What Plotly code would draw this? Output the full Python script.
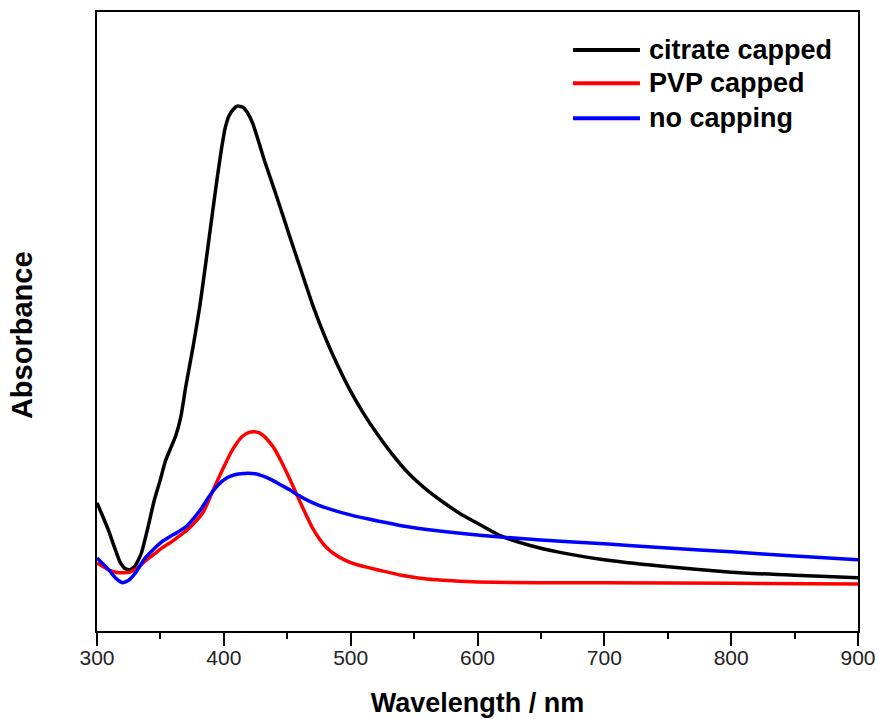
import plotly.graph_objects as go

# ---- data (arbitrary absorbance units) ----
wl_citrate = [300, 305, 309, 314, 318, 322, 326, 330, 335, 340, 345, 350, 354, 358,
              362, 366, 370, 376, 381, 386, 391, 395, 398, 401, 404, 407.5, 411, 415,
              419, 423, 426, 432, 439, 445, 452, 460, 470, 480, 490, 500, 510, 520,
              533, 546, 560, 573, 586, 600, 618, 640, 665, 697, 744, 800, 850, 900]
abs_citrate = [0.207, 0.183, 0.163, 0.134, 0.112, 0.101, 0.099, 0.105, 0.126, 0.166,
               0.210, 0.245, 0.275, 0.295, 0.315, 0.345, 0.395, 0.462, 0.524, 0.598,
               0.675, 0.735, 0.777, 0.812, 0.832, 0.843, 0.848, 0.846, 0.836, 0.819,
               0.800, 0.760, 0.718, 0.681, 0.637, 0.588, 0.527, 0.474, 0.428, 0.387,
               0.352, 0.321, 0.285, 0.254, 0.228, 0.208, 0.190, 0.174, 0.154, 0.139,
               0.127, 0.116, 0.105, 0.095, 0.090, 0.086]

wl_pvp = [300, 305, 310, 315, 320, 326, 332, 338, 345, 351, 358, 364, 371, 377, 384,
          390, 395, 400, 405, 410, 415, 420, 424, 428, 432, 436, 440, 445, 450, 455,
          460, 465, 470, 475, 480, 486, 495, 505, 515, 525, 540, 560, 580, 600, 650,
          700, 800, 900]
abs_pvp = [0.110, 0.104, 0.098, 0.095, 0.094, 0.095, 0.102, 0.113, 0.124, 0.134,
           0.143, 0.152, 0.163, 0.175, 0.193, 0.220, 0.243, 0.265, 0.286, 0.303,
           0.315, 0.321, 0.322, 0.320, 0.314, 0.305, 0.294, 0.275, 0.254, 0.232,
           0.209, 0.187, 0.166, 0.150, 0.137, 0.126, 0.115, 0.107, 0.102, 0.097,
           0.090, 0.084, 0.081, 0.079, 0.078, 0.078, 0.077, 0.076]

wl_none = [300, 305, 310, 315, 320, 325, 330, 338, 345, 351, 358, 364, 371, 377, 383,
           388, 393, 398, 403, 408, 413, 419, 425, 430, 437, 445, 452, 458, 466, 475,
           485, 495, 507, 523, 540, 560, 590, 618, 650, 700, 750, 800, 850, 900]
abs_none = [0.118, 0.108, 0.097, 0.085, 0.078, 0.082, 0.093, 0.118, 0.133, 0.144,
            0.153, 0.160, 0.170, 0.184, 0.200, 0.216, 0.230, 0.241, 0.248, 0.252,
            0.254, 0.255, 0.254, 0.251, 0.245, 0.236, 0.228, 0.220, 0.211, 0.203,
            0.196, 0.190, 0.184, 0.177, 0.170, 0.164, 0.157, 0.152, 0.147, 0.141,
            0.134, 0.128, 0.121, 0.115]

series_names = ["citrate capped", "PVP capped", "no capping"]
series_colors = ["#000000", "#ff0000", "#0000ff"]
x_ticks = [300, 400, 500, 600, 700, 800, 900]
x_tick_labels = ["300", "400", "500", "600", "700", "800", "900"]

FONT = "Liberation Sans, Arial, sans-serif"

fig = go.Figure()
for wl, ab, name, col in zip([wl_citrate, wl_pvp, wl_none],
                             [abs_citrate, abs_pvp, abs_none],
                             series_names, series_colors):
    fig.add_trace(go.Scatter(x=wl, y=ab, mode="lines", name=name,
                             line=dict(color=col, width=3.5, shape="spline", smoothing=0.5),
                             showlegend=False))

# legend drawn in the upper right, like the original
legend_rows_y = [0.9386, 0.8848, 0.8283]
for name, col, yy in zip(series_names, series_colors, legend_rows_y):
    fig.add_shape(type="line", xref="paper", yref="paper", x0=0.6255, x1=0.7135,
                  y0=yy, y1=yy, line=dict(color=col, width=4))
    fig.add_annotation(xref="paper", yref="paper", x=0.7227, y=yy, text="<b>" + name + "</b>",
                       showarrow=False, xanchor="left", yanchor="middle",
                       font=dict(family=FONT, size=27, color="#000000"))

# y axis title
fig.add_annotation(xref="paper", yref="paper", x=-0.0986, y=0.478, text="<b>Absorbance</b>",
                   textangle=-90, showarrow=False, xanchor="center", yanchor="middle",
                   font=dict(family=FONT, size=29, color="#000000"))

fig.update_layout(
    width=879, height=719,
    margin=dict(l=97, r=21, t=12, b=88, autoexpand=False),
    paper_bgcolor="white", plot_bgcolor="white",
    font=dict(family=FONT, color="#000000"),
    showlegend=False,
)
fig.update_xaxes(
    range=[300, 900], tickmode="array", tickvals=x_ticks, ticktext=x_tick_labels,
    ticks="outside", ticklen=13, tickwidth=2, tickcolor="black",
    minor=dict(dtick=50, tick0=300, ticks="outside", ticklen=6, tickwidth=2, tickcolor="black"),
    showline=True, linewidth=2, linecolor="black", mirror=True,
    showgrid=False, zeroline=False, automargin=False,
    ticklabelstandoff=-6,
    tickfont=dict(family=FONT, size=21, color="#222222"),
    title=dict(text="<b>Wavelength / nm</b>", font=dict(family=FONT, size=27, color="#000000"),
               standoff=25),
)
fig.update_yaxes(
    range=[0, 1], showticklabels=False, ticks="",
    showline=True, linewidth=2, linecolor="black", mirror=True,
    showgrid=False, zeroline=False, automargin=False,
)

fig.write_html("out.html", config={"displayModeBar": False},
               post_script="document.body.style.margin='0';document.body.style.overflow='hidden';")
